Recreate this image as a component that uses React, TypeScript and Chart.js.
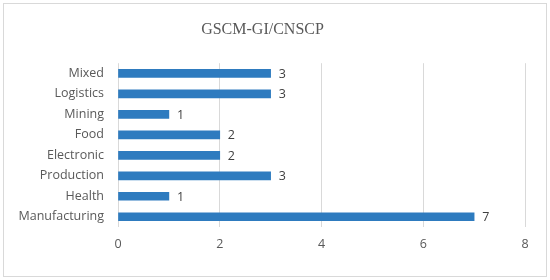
import React, { useEffect, useRef } from "react";
import { Chart, registerables } from "chart.js";

Chart.register(...registerables);

const chartTitle = "GSCM-GI/CNSCP";
const categories = ["Mixed", "Logistics", "Mining", "Food", "Electronic", "Production", "Health", "Manufacturing"];
const counts = [3, 3, 1, 2, 2, 3, 1, 7];
const axisMax = 8;
const axisStep = 2;

const barColor = "#2E7BBF";
const textColor = "#595959";
const labelFont = "'Open Sans', 'Noto Sans', sans-serif";

const valueLabels = {
  id: "valueLabels",
  afterDatasetsDraw(chart: any) {
    const ctx = chart.ctx;
    const meta = chart.getDatasetMeta(0);
    ctx.save();
    ctx.font = `12.5px ${labelFont}`;
    ctx.fillStyle = "#404040";
    ctx.textAlign = "left";
    ctx.textBaseline = "middle";
    meta.data.forEach((bar: any, i: number) => {
      ctx.fillText(String(counts[i]), bar.x + 8, bar.y + 1);
    });
    ctx.restore();
  },
};

const frame = {
  id: "frame",
  beforeDraw(chart: any) {
    const ctx = chart.ctx;
    ctx.save();
    ctx.fillStyle = "#ffffff";
    ctx.fillRect(0, 0, chart.width, chart.height);
    ctx.strokeStyle = "#d9d9d9";
    ctx.lineWidth = 1;
    ctx.strokeRect(3.5, 3.5, chart.width - 7, chart.height - 7);
    ctx.restore();
  },
};

export default function App() {
  const ref = useRef<HTMLCanvasElement>(null);
  useEffect(() => {
    if (!ref.current) return;
    const chart = new Chart(ref.current, {
      type: "bar",
      data: {
        labels: categories,
        datasets: [
          {
            data: counts,
            backgroundColor: barColor,
            barThickness: 8,
          },
        ],
      },
      plugins: [frame, valueLabels],
      options: {
        indexAxis: "y",
        animation: false,
        responsive: false,
        maintainAspectRatio: false,
        layout: { padding: { left: 0, right: 25, top: 0, bottom: 18 } },
        plugins: {
          legend: { display: false },
          tooltip: { enabled: false },
          title: {
            display: true,
            text: chartTitle,
            color: textColor,
            font: { family: "'Liberation Serif', 'Times New Roman', serif", size: 16, weight: "normal" },
            padding: { top: 20, bottom: 24 },
          },
        },
        scales: {
          x: {
            min: 0,
            max: axisMax,
            ticks: { stepSize: axisStep, color: textColor, font: { family: labelFont, size: 12.5 }, padding: 10 },
            grid: { color: "#d9d9d9", drawTicks: false },
            border: { display: false },
          },
          y: {
            ticks: { color: textColor, font: { family: labelFont, size: 12.5 }, padding: 14 },
            grid: { display: false, drawTicks: false },
            border: { display: false },
            afterFit(scale: any) {
              scale.width = 118;
            },
          },
        },
      },
    });
    return () => chart.destroy();
  }, []);
  return (
    <div style={{ position: "fixed", left: 0, top: 0, width: 550, height: 280 }}>
      <canvas ref={ref} width={550} height={280} style={{ width: 550, height: 280 }} />
    </div>
  );
}
